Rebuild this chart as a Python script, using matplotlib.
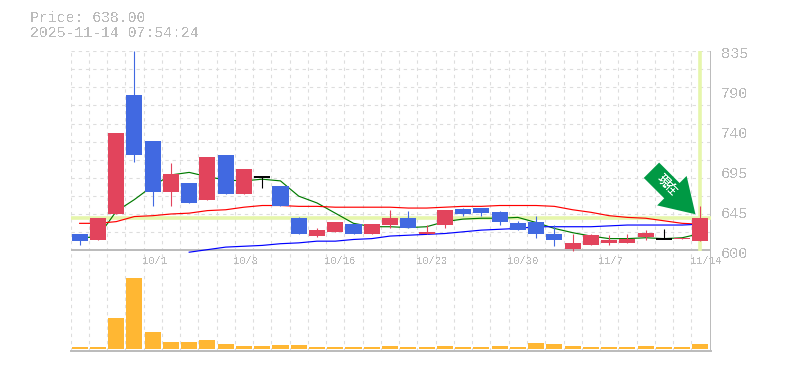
import matplotlib
matplotlib.use("Agg")
import matplotlib.pyplot as plt
from matplotlib.transforms import offset_copy
import numpy as np

# header text
price_text = "Price: 638.00"
time_text = "2025-11-14 07:54:24"

# date labels sit under these candles
date_pos = [4, 9, 14, 19, 24, 29, 34]
date_labels = ["10/1", "10/8", "10/16", "10/23", "10/30", "11/7", "11/14"]

price_ticks = [600, 647, 694, 741, 788, 835]
price_labels = ["600", "645", "695", "740", "790", "835"]
last_price = 638

# candles
opens = [619, 612, 643, 783, 729, 669, 680, 660, 712, 666, 686, 676, 638, 617, 622, 631, 620, 630, 638, 620,
         630, 649, 650, 645, 632, 634, 620, 602, 607, 609, 609, 616, 614, 613, 611]
closes = [611, 638, 738, 712, 669, 690, 656, 710, 667, 696, 686, 653, 620, 624, 634, 620, 631, 638, 626, 622,
          648, 643, 644, 634, 624, 619, 612, 609, 618, 612, 614, 621, 614, 615, 638]
highs = [619, 638, 738, 835, 729, 703, 680, 710, 712, 696, 686, 676, 640, 626, 634, 631, 631, 648, 647, 630,
         648, 650, 650, 646, 635, 641, 630, 619, 619, 618, 619, 624, 625, 615, 652]
lows = [606, 612, 643, 704, 652, 653, 656, 660, 666, 666, 674, 652, 620, 616, 622, 620, 620, 626, 626, 620,
        626, 641, 641, 630, 624, 615, 605, 599, 606, 606, 609, 612, 614, 613, 611]

# moving averages
ma_short = [615, 616, 646, 660, 676, 689, 692, 687, 683, 682, 684, 682, 664, 656, 644, 632, 628, 628, 627, 628,
            634, 637, 638, 638, 639, 633, 626, 621, 617, 614, 614, 615, 614, 615, 620]
ma_mid = [632, 632, 634, 640, 641, 643, 644, 647, 648, 651, 653, 653, 652, 652, 651, 651, 651, 651, 650, 650,
          651, 652, 652, 653, 653, 653, 652, 648, 645, 641, 639, 638, 635, 632, 631]
ma_long = [598, 601, 604, 605, 606, 608, 609, 611, 611, 613, 614, 617, 618, 619, 620, 622, 624, 625, 626, 628,
           628, 628, 628, 629, 630, 630, 630, 630, 631]
ma_long_start = 6

volumes = [2, 2, 31, 71, 17, 7, 7, 9, 5, 3, 3, 4, 4, 2, 2, 2, 2, 3, 2, 2, 3, 2, 2, 3, 2, 6, 5, 3, 2, 2, 2, 3, 2, 2, 5]

UP = "#e2445c"
DOWN = "#4169e1"
GRID = "#dddddd"
AXIS = "#bbbbbb"
HILITE = "#e6f6ab"
DASH = (0, (3, 3.5))

plt.rcParams["font.family"] = ["Liberation Mono", "Noto Sans CJK JP"]
plt.rcParams["text.antialiased"] = False

W, H = 785, 370
fig = plt.figure(figsize=(W / 100, H / 100), dpi=100)
left, right = 70.5 / W, 710.5 / W
vax = fig.add_axes([left, 1 - 350.5 / H, right - left, 100 / H])
ax = fig.add_axes([left, 1 - 250.5 / H, right - left, 199.5 / H])
ax.patch.set_visible(False)
vax.patch.set_visible(False)

n = len(opens)
x = np.arange(n)
grid_x = np.arange(n) - 0.5

for a in (ax, vax):
    a.set_xlim(-0.5, n - 0.45)
    a.set_xticks([])
    a.set_yticks([])
    for s in a.spines.values():
        s.set_visible(False)
    a.vlines(grid_x, 0, 1, transform=a.get_xaxis_transform(), color=GRID, lw=0.8, ls=DASH, zorder=0)
    a.axvline(n - 0.45, color=AXIS, lw=1.4, zorder=1)

# price panel
ax.set_ylim(600, 835)
ax.hlines(np.linspace(600, 835, 12)[1:], 0, 1, transform=ax.get_yaxis_transform(), color=GRID, lw=0.8, ls=DASH, zorder=0)
ax.axhline(600, color=AXIS, lw=1.4, zorder=1)
ax.axhline(last_price, color=HILITE, lw=2.6, zorder=1)
ax.axvline(n - 1, color=HILITE, lw=2.6, zorder=1)

ax.plot(x, ma_short, color="#007a00", lw=0.85, zorder=2)
ax.plot(x, ma_mid, color="#ff0000", lw=0.85, zorder=2)
ax.plot(x[ma_long_start:], ma_long, color="#0000ff", lw=0.85, zorder=2, clip_on=False)

for i in x:
    o, c = opens[i], closes[i]
    if o == c:
        col = "black"
        ax.hlines(c, i - 0.44, i + 0.44, color=col, lw=1.4, zorder=3)
    else:
        col = UP if c > o else DOWN
        ax.bar(i, abs(c - o), bottom=min(o, c), width=0.88, color=col, lw=0, zorder=3, clip_on=False)
    ax.vlines(i, lows[i], highs[i], color=col, lw=0.8, zorder=3, clip_on=False)

# arrow on the last candle, its tip a little left of and above the close
tip = offset_copy(ax.transData, fig=fig, x=-5, y=4, units="dots")
ax.annotate("", xy=(n - 1, last_price), xycoords=tip, xytext=(-44, 44), textcoords="offset pixels",
            arrowprops=dict(arrowstyle="simple,head_length=1.2,head_width=1.5,tail_width=0.78",
                            mutation_scale=20, color="#009944", lw=0, shrinkA=0, shrinkB=0,
                            patchA=None, patchB=None), zorder=4)
ax.annotate("現在", xy=(n - 1, last_price), xycoords=tip, xytext=(-28, 29), textcoords="offset pixels",
            color="white", fontsize=8.5, fontweight="bold", rotation=-45, rotation_mode="anchor",
            ha="center", va="center", zorder=5)

# price labels on the right
for p, lab in zip(price_ticks, price_labels):
    ax.annotate(lab, xy=(1, p), xycoords=ax.get_yaxis_transform(), xytext=(10, -3), textcoords="offset pixels",
                color=AXIS, fontsize=11, ha="left", va="center", annotation_clip=False)

for p, lab in zip(date_pos, date_labels):
    ax.annotate(lab, xy=(p, 600), xytext=(-10.5, -10), textcoords="offset pixels",
                color=AXIS, fontsize=7.5, ha="left", va="center", annotation_clip=False)

# volume panel
vax.set_ylim(-2, 98)
vax.bar(x, volumes, width=0.88, color="#ffb733", lw=0, zorder=3)
vax.axhline(-2, color=AXIS, lw=1.4, zorder=2, clip_on=False)

fig.text(30 / W, 1 - 18 / H, price_text, color=AXIS, fontsize=10.7, ha="left", va="center")
fig.text(30 / W, 1 - 33 / H, time_text, color=AXIS, fontsize=10.7, ha="left", va="center")

fig.savefig("out.png", dpi=100)
